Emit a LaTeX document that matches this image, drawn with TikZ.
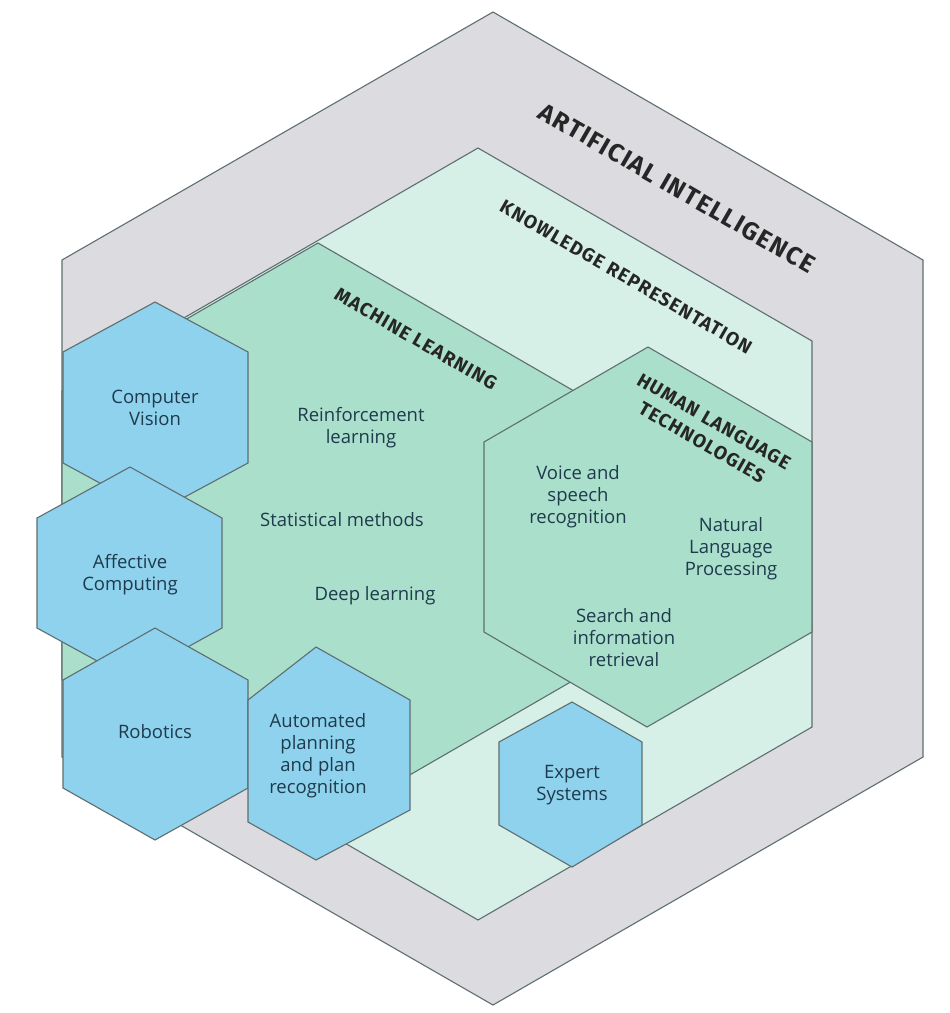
\documentclass[tikz,border=0pt]{standalone}
\usepackage{fontspec}
\setmainfont{Open Sans}
\newfontfamily\titlefont[LetterSpace=6]{Fira Sans}
\definecolor{aigray}{HTML}{DCDBDF}
\definecolor{krgreen}{HTML}{D6F0E7}
\definecolor{mlgreen}{HTML}{AADFCB}
\definecolor{bluehex}{HTML}{8ED2EE}
\definecolor{edge}{HTML}{5F6E70}
\definecolor{ink}{HTML}{1E3A4C}
\begin{document}
\begin{tikzpicture}[x=1pt,y=-1pt,
  hexshape/.style={draw=edge,line width=1.1pt,line join=miter},
  title/.style={text=black!85, rotate=-30, align=center, inner sep=0pt},
  lbl/.style={font=\fontsize{18.5}{22}\selectfont, text=ink, align=center, inner sep=0pt}]
\useasboundingbox[fill=white] (0,0) rectangle (950,1013);
% outer AI
\path[hexshape,fill=aigray] (493,12) -- (923,260) -- (923,757) -- (493,1005) -- (62,757) -- (62,260) -- cycle;
% knowledge representation
\path[hexshape,fill=krgreen] (478,148) -- (812,341) -- (812,727) -- (478,920) -- (144,727) -- (144,341) -- cycle;
% machine learning
\path[hexshape,fill=mlgreen] (318,243) -- (574,391) -- (574,680) -- (318,828) -- (62,680) -- (62,391) -- cycle;
% human language technologies
\path[hexshape,fill=mlgreen] (648,347) -- (812,442) -- (812,632) -- (647,727) -- (484,632) -- (484,442) -- cycle;
% blue hexagons
\path[hexshape,fill=bluehex] (155,302) -- (248,352) -- (248,463) -- (155,513) -- (63,463) -- (63,352) -- cycle;
\path[hexshape,fill=bluehex] (130,467) -- (222,518) -- (222,628) -- (130,679) -- (37,628) -- (37,518) -- cycle;
\path[hexshape,fill=bluehex] (155,628) -- (248,680) -- (248,788) -- (155,840) -- (63,788) -- (63,680) -- cycle;
\path[hexshape,fill=bluehex] (316,647) -- (410,700) -- (410,810) -- (316,860) -- (248,822) -- (248,700) -- cycle;
\path[hexshape,fill=bluehex] (572,702) -- (642,742) -- (642,825) -- (572,867) -- (499,825) -- (499,742) -- cycle;
% titles
\node[title,font=\titlefont\bfseries\fontsize{25}{28}\selectfont] (ai) at (677,188) {ARTIFICIAL INTELLIGENCE};
\node[title,font=\titlefont\bfseries\fontsize{19}{22}\selectfont] (kr) at (626,277) {KNOWLEDGE REPRESENTATION};
\node[title,font=\titlefont\bfseries\fontsize{19}{22}\selectfont] (ml) at (416,339) {MACHINE LEARNING};
\node[title,font=\titlefont\bfseries\fontsize{19}{24}\selectfont] (hlt) at (708,432) {HUMAN LANGUAGE\\TECHNOLOGIES};
% labels
\node[lbl] (cv) at (155,408) {Computer\\Vision};
\node[lbl] (rl) at (361,428) {Reinforcement\\learning};
\node[lbl] (sm) at (342,520) {Statistical methods};
\node[lbl] (dl) at (375,596) {Deep learning};
\node[lbl] (ac) at (130,575) {Affective\\Computing};
\node[lbl] (rob) at (155,732) {Robotics};
\node[lbl] (ap) at (318,756) {Automated\\planning\\and plan\\recognition};
\node[lbl] (vs) at (578,497) {Voice and\\speech\\recognition};
\node[lbl] (nlp) at (731,549) {Natural\\Language\\Processing};
\node[lbl] (sir) at (624,638) {Search and\\information\\retrieval};
\node[lbl] (es) at (572,785) {Expert\\Systems};
\end{tikzpicture}
\end{document}
